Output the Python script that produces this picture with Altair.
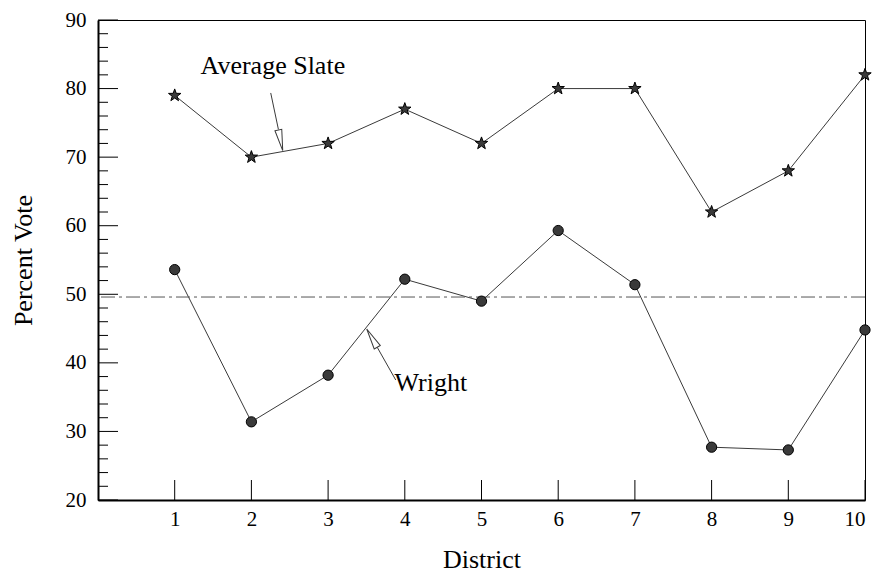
import altair as alt
import pandas as pd

# ---- data ----
districts = [1, 2, 3, 4, 5, 6, 7, 8, 9, 10]
average_slate = [79, 70, 72, 77, 72, 80, 80, 62, 68, 82]
wright = [53.6, 31.4, 38.2, 52.2, 49.0, 59.3, 51.4, 27.7, 27.3, 44.8]
reference_level = [49.6]

y_major = [20, 30, 40, 50, 60, 70, 80, 90]
y_minor = [22, 24, 26, 28, 32, 34, 36, 38, 42, 44, 46, 48, 52, 54, 56, 58,
           62, 64, 66, 68, 72, 74, 76, 78, 82, 84, 86, 88]

label_text = ["Average Slate", "Wright"]
label_x = [2.28, 4.34]
label_y = [83.3, 37.1]

shaft_x = [2.252, 3.882]
shaft_y = [79.36, 37.5]
shaft_x2 = [2.352, 3.640]
shaft_y2 = [74.05, 42.28]
head1_x, head1_y = [2.380], [72.45]
head2_x, head2_y = [3.572], [43.61]

FONT = "Liberation Serif, Times New Roman, Times, serif"
LINE = "#3a3a3a"
STAR = ("M0,-1L0.235,-0.324L0.951,-0.309L0.38,0.124L0.588,0.809L0,0.4"
        "L-0.588,0.809L-0.38,0.124L-0.951,-0.309L-0.235,-0.324Z")
HEAD = "M-0.33,-1L0.33,-1L0,1Z"

df_slate = pd.DataFrame({"district": districts, "value": average_slate})
df_wright = pd.DataFrame({"district": districts, "value": wright})
df_ref = pd.DataFrame({"value": reference_level})
df_major = pd.DataFrame({"v": y_major})
df_minor = pd.DataFrame({"v": y_minor})
df_xt = pd.DataFrame({"d": districts})
df_lab = pd.DataFrame({"t": label_text, "x": label_x, "y": label_y})
df_shaft = pd.DataFrame({"x": shaft_x, "y": shaft_y, "x2": shaft_x2, "y2": shaft_y2})
df_h1 = pd.DataFrame({"x": head1_x, "y": head1_y})
df_h2 = pd.DataFrame({"x": head2_x, "y": head2_y})

xs = alt.Scale(domain=[0, 10], nice=False, zero=False)
ys = alt.Scale(domain=[20, 90], nice=False, zero=False)

X = alt.X("district:Q", scale=xs, title="District",
          axis=alt.Axis(values=districts, ticks=False, grid=False, labelPadding=8,
                        titlePadding=17, format="d"))
Y = alt.Y("value:Q", scale=ys, title="Percent Vote",
          axis=alt.Axis(values=y_major, ticks=False, grid=False, labelPadding=12,
                        titlePadding=29, format="d"))

ref = alt.Chart(df_ref).mark_rule(color="#555555", strokeWidth=1,
                                  strokeDash=[14, 4, 3, 4]).encode(
    y=alt.Y("value:Q", scale=ys))

base_s = alt.Chart(df_slate).encode(x=X, y=Y)
base_w = alt.Chart(df_wright).encode(x=X, y=Y)

line_s = base_s.mark_line(color=LINE, strokeWidth=1)
line_w = base_w.mark_line(color=LINE, strokeWidth=1)
pts_s = base_s.mark_point(shape=STAR, size=170, filled=True, color="#3a3a3a",
                          stroke="black", strokeWidth=1, opacity=1)
pts_w = base_w.mark_point(shape="circle", size=105, filled=True, color="#3a3a3a",
                          stroke="black", strokeWidth=1, opacity=1)

major_t = alt.Chart(df_major).mark_rule(color="black", strokeWidth=1).encode(
    y=alt.Y("v:Q", scale=ys), x=alt.value(0), x2=alt.value(20))
minor_t = alt.Chart(df_minor).mark_rule(color="black", strokeWidth=1).encode(
    y=alt.Y("v:Q", scale=ys), x=alt.value(0), x2=alt.value(10))
x_t = alt.Chart(df_xt).mark_rule(color="black", strokeWidth=1).encode(
    x=alt.X("d:Q", scale=xs), y=alt.value(460), y2=alt.value(480))

labels = alt.Chart(df_lab).mark_text(font=FONT, fontSize=26, color="black").encode(
    x=alt.X("x:Q", scale=xs), y=alt.Y("y:Q", scale=ys), text="t:N")

shafts = alt.Chart(df_shaft).mark_rule(color=LINE, strokeWidth=1).encode(
    x=alt.X("x:Q", scale=xs), y=alt.Y("y:Q", scale=ys),
    x2="x2:Q", y2="y2:Q")

head1 = alt.Chart(df_h1).mark_point(
    shape=HEAD, size=441, filled=True, color="white", stroke=LINE,
    strokeWidth=1, opacity=1, angle=348).encode(
    x=alt.X("x:Q", scale=xs), y=alt.Y("y:Q", scale=ys))
head2 = alt.Chart(df_h2).mark_point(
    shape=HEAD, size=441, filled=True, color="white", stroke=LINE,
    strokeWidth=1, opacity=1, angle=150).encode(
    x=alt.X("x:Q", scale=xs), y=alt.Y("y:Q", scale=ys))

chart = alt.layer(
    line_s, line_w, ref, major_t, minor_t, x_t, shafts, head1, head2, pts_s, pts_w, labels
).properties(
    width=767, height=480,
    autosize=alt.AutoSizeParams(type="none"),
    padding={"left": 98, "top": 20, "right": 15, "bottom": 76},
    background="white",
).configure_view(
    stroke="black", strokeWidth=1
).configure_axis(
    domainColor="black", domainWidth=2,
    labelFont=FONT, labelFontSize=21, labelColor="black",
    titleFont=FONT, titleFontSize=26, titleFontWeight="normal", titleColor="black",
)

chart.save("out.html", embed_options={"renderer": "svg", "actions": False})
